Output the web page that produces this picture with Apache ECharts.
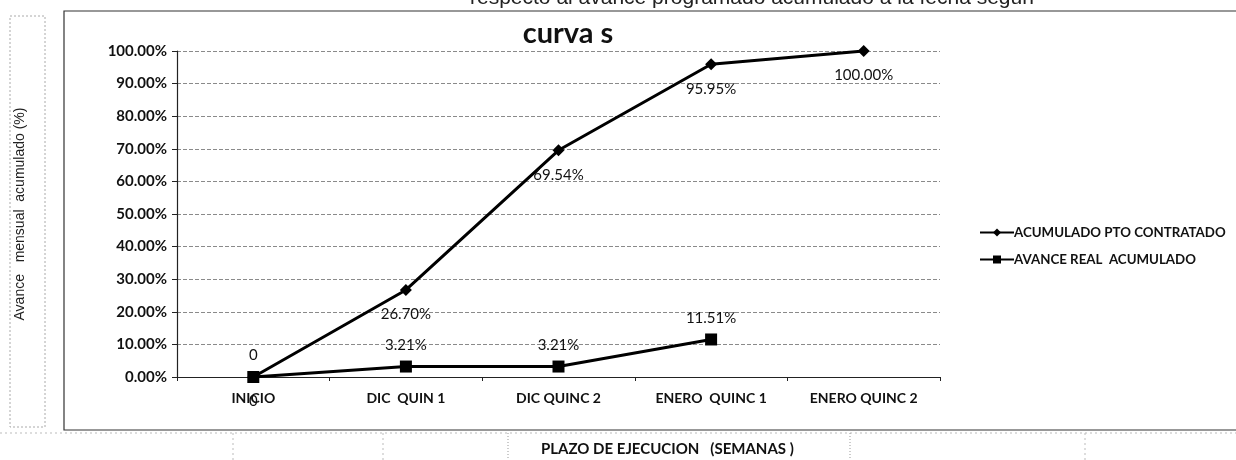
<!DOCTYPE html>
<html><head><meta charset="utf-8">
<script src="https://cdn.jsdelivr.net/npm/echarts@6/dist/echarts.min.js"></script>
<style>html,body{margin:0;padding:0;background:#fff}#c{width:1236px;height:460px}</style>
</head><body><div id="c"></div>
<script>
var categories = ['INICIO', 'DIC  QUIN 1', 'DIC QUINC 2', 'ENERO  QUINC 1', 'ENERO QUINC 2'];
var acumuladoPto = [0, 26.70, 69.54, 95.95, 100.00];
var avanceReal = [0, 3.21, 3.21, 11.51];
var yTicks = [0, 10, 20, 30, 40, 50, 60, 70, 80, 90, 100];
var seriesNames = ['ACUMULADO PTO CONTRATADO', 'AVANCE REAL  ACUMULADO'];

var F = 'Lato, "Open Sans", sans-serif';
function fmt(v){ return v === 0 ? '0' : v.toFixed(2) + '%'; }
var chart = echarts.init(document.getElementById('c'), null, {renderer:'canvas'});
var dotted = {type:'dashed', color:'#8a8a8a', width:1, dash:[2,2]};
chart.setOption({
  backgroundColor:'#fff',
  animation:false,
  title:{text:'curva s', left:563, textAlign:'center', top:14,
    textStyle:{fontFamily:F, fontSize:29, fontWeight:'bold', color:'#111'}},
  grid:{left:177, right:296, top:51, bottom:83, containLabel:false},
  legend:{orient:'vertical', left:974, top:221, itemGap:14, itemWidth:34, itemHeight:10,
    data:seriesNames,
    textStyle:{fontFamily:F, fontSize:13.3, fontWeight:'bold', color:'#111', padding:[0,0,0,-5]}},
  xAxis:{type:'category', data:categories, boundaryGap:true,
    axisLine:{lineStyle:{color:'#222', width:1.2}},
    axisTick:{show:true, length:4, lineStyle:{color:'#222'}},
    axisLabel:{fontFamily:F, fontSize:14, fontWeight:'bold', color:'#111', margin:14}},
  yAxis:{type:'value', min:yTicks[0], max:yTicks[yTicks.length-1], interval:10,
    name:'Avance   mensual  acumulado (%)', nameLocation:'middle', nameGap:150, nameRotate:90,
    nameTextStyle:{fontFamily:'"Liberation Sans", Arial, sans-serif', fontSize:14, color:'#222'},
    axisLine:{show:true, lineStyle:{color:'#222', width:1.2}},
    axisTick:{show:true, inside:false, length:5, lineStyle:{color:'#222'}},
    splitLine:{show:true, lineStyle:dotted},
    axisLabel:{fontFamily:F, fontSize:15, fontWeight:'bold', color:'#111', margin:10,
      formatter:function(v){return v.toFixed(2)+'%';}}},
  series:[
    {name:seriesNames[0], type:'line', data:acumuladoPto, symbol:'diamond', symbolSize:12,
      lineStyle:{color:'#000', width:3}, itemStyle:{color:'#000'},
      label:{show:true, position:'bottom', distance:11, fontFamily:F, fontSize:15, color:'#111',
        formatter:function(p){return fmt(p.value);}}},
    {name:seriesNames[1], type:'line', data:avanceReal, symbol:'rect', symbolSize:12,
      lineStyle:{color:'#000', width:3}, itemStyle:{color:'#000'},
      label:{show:true, position:'top', distance:8, fontFamily:F, fontSize:15, color:'#111',
        formatter:function(p){return fmt(p.value);}}}
  ],
  graphic:[
    {type:'rect', shape:{x:64, y:11, width:1200, height:419}, style:{fill:'none', stroke:'#333', lineWidth:1.2}, z:-1},
    {type:'rect', shape:{x:10, y:16, width:35, height:411}, style:{fill:'none', stroke:'#aaa', lineWidth:1, lineDash:[2,2]}, z:-1},
    {type:'line', shape:{x1:0, y1:433, x2:1236, y2:433}, style:{stroke:'#bbb', lineWidth:1, lineDash:[2,3]}},
    {type:'line', shape:{x1:233, y1:433, x2:233, y2:460}, style:{stroke:'#bbb', lineWidth:1, lineDash:[2,3]}},
    {type:'line', shape:{x1:383, y1:433, x2:383, y2:460}, style:{stroke:'#bbb', lineWidth:1, lineDash:[2,3]}},
    {type:'line', shape:{x1:508, y1:433, x2:508, y2:460}, style:{stroke:'#999', lineWidth:1, lineDash:[1,2]}},
    {type:'line', shape:{x1:850, y1:433, x2:850, y2:460}, style:{stroke:'#999', lineWidth:1, lineDash:[1,2]}},
    {type:'line', shape:{x1:1085, y1:433, x2:1085, y2:460}, style:{stroke:'#bbb', lineWidth:1, lineDash:[2,3]}},
    {type:'text', left:541, top:442, style:{text:'PLAZO DE EJECUCION   (SEMANAS )', fontFamily:F, fontSize:15, fontWeight:'bold', fill:'#111'}},
    {type:'text', left:470, top:-12, style:{text:'respecto al avance programado acumulado a la fecha según', fontFamily:'"Liberation Sans", Arial, sans-serif', fontSize:21, fill:'#222'}}
  ]
});
</script></body></html>
